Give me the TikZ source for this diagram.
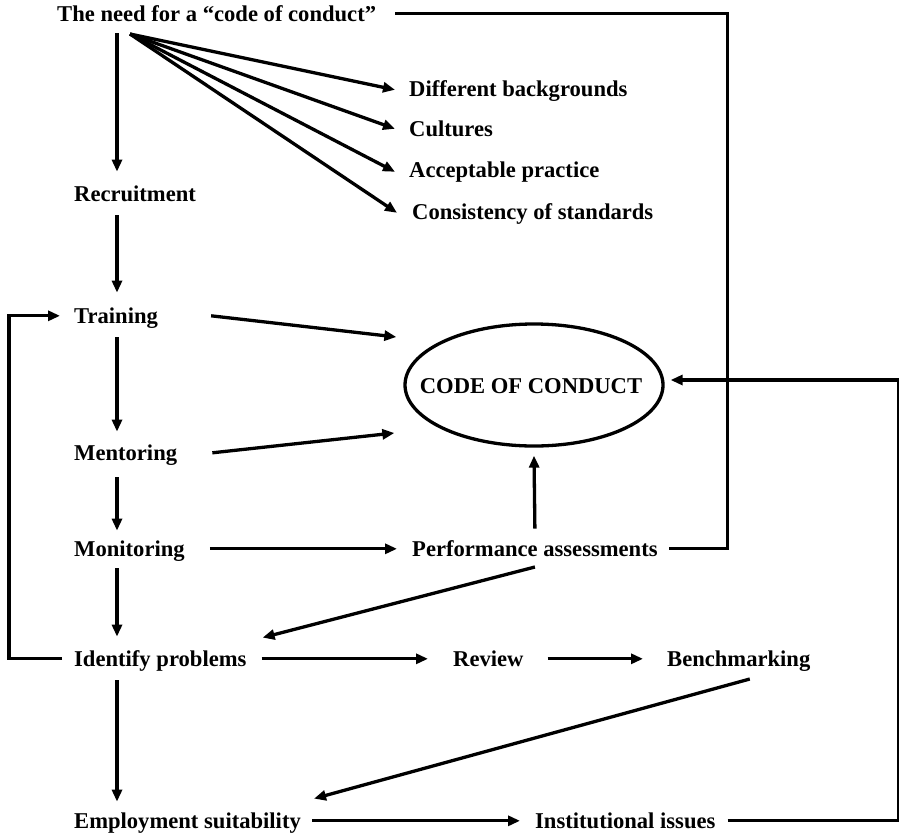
\documentclass[tikz,border=0pt]{standalone}
\usepackage{fontspec}
\setmainfont{Liberation Serif}
\usetikzlibrary{arrows.meta,shapes.geometric,calc}
\begin{document}
\begin{tikzpicture}[x=1pt,y=-1pt,
  lbl/.style={inner sep=0pt, text height=16pt, text depth=0pt, anchor=south west,
    font=\bfseries\fontsize{22.6}{27}\selectfont},
  ln/.style={line width=3.3pt},
  arr/.style={ln, -{Triangle[length=12pt,width=10pt]}}]
\useasboundingbox (0,0) rectangle (899,836);
% text nodes
\node[lbl] (need) at (57,22) {The need for a “code of conduct”};
\node[lbl] (diff) at (409,97) {Different backgrounds};
\node[lbl] (cult) at (409,137) {Cultures};
\node[lbl] (acc) at (409,178) {Acceptable practice};
\node[lbl] (cons) at (412,220) {Consistency of standards};
\node[lbl] (recr) at (74,202) {Recruitment};
\node[lbl] (train) at (74,324) {Training};
\node[lbl] (ment) at (74,461) {Mentoring};
\node[lbl] (mon) at (74,557) {Monitoring};
\node[lbl] (perf) at (412,557) {Performance assessments};
\node[lbl] (ident) at (74,667) {Identify problems};
\node[lbl] (rev) at (453,667) {Review};
\node[lbl] (bench) at (667,667) {Benchmarking};
\node[lbl] (emp) at (74,829) {Employment suitability};
\node[lbl] (inst) at (535,829) {Institutional issues};
\node[ellipse, draw, line width=3.3pt, minimum width=258pt, minimum height=122pt, inner sep=0pt]
  (code) at (534,385) {};
\node[lbl, anchor=center] (codet) at (531,385) {CODE OF CONDUCT};
% helper coordinates
\coordinate (vx) at (117,0);
\coordinate (lx) at (9,0);
\coordinate (rx) at (899,0);
\coordinate (fan) at ($(need.south west)+(73,12)$);
% vertical chain
\draw[arr] ($(need.south -| vx)+(0,11)$) -- ($(recr.north -| vx)+(0,-14)$);
\draw[arr] ($(recr.south -| vx)+(0,13)$) -- ($(train.north -| vx)+(0,-15)$);
\draw[arr] ($(train.south -| vx)+(0,13)$) -- ($(ment.north -| vx)+(0,-13)$);
\draw[arr] ($(ment.south -| vx)+(0,16)$) -- ($(mon.north -| vx)+(0,-10)$);
\draw[arr] ($(mon.south -| vx)+(0,11)$) -- ($(ident.north -| vx)+(0,-14)$);
\draw[arr] ($(ident.south -| vx)+(0,13)$) -- ($(emp.north -| vx)+(0,-11)$);
% fan
\draw[arr] (fan) -- ($(diff.west)+(-14,1)$);
\draw[arr] (fan) -- ($(cult.west)+(-14,0)$);
\draw[arr] (fan) -- ($(acc.west)+(-14,2)$);
\draw[arr] (fan) -- ($(cons.west)+(-15,1)$);
% top loop
\draw[ln] ($(need.east)+(19,0)$) -| ($(perf.east)+(70,0)$) -- ($(perf.east)+(11,0)$);
% to code of conduct
\draw[arr] ($(train.east)+(53,0)$) -- ($(code.west)+(-7,-48)$);
\draw[arr] ($(ment.east)+(35,0)$) -- ($(code.west)+(-9,48)$);
\draw[arr] ($(perf.north)+(0,-12)$) -- ($(code.south)+(0,8)$);
\draw[arr] ($(mon.east)+(25,0)$) -- ($(perf.west)+(-15,0)$);
\draw[arr] ($(perf.south)+(0,10)$) -- ($(ident.north east)+(16,-13)$);
\draw[arr] ($(ident.east)+(15,0)$) -- ($(rev.west)+(-25,0)$);
\draw[arr] ($(rev.east)+(24,0)$) -- ($(bench.west)+(-24,0)$);
\draw[arr] ($(bench.south)+(11,12)$) -- ($(emp.north east)+(13,-14)$);
\draw[arr] ($(emp.east)+(11,0)$) -- ($(inst.west)+(-15,0)$);
% loops
\draw[arr] ($(ident.west)+(-12,0)$) -- (ident.west -| lx) |- ($(train.west)+(-14,0)$);
\draw[arr] ($(inst.east)+(12,0)$) -- (inst.east -| rx) |- ($(code.east)+(6,-5)$);
\end{tikzpicture}
\end{document}
